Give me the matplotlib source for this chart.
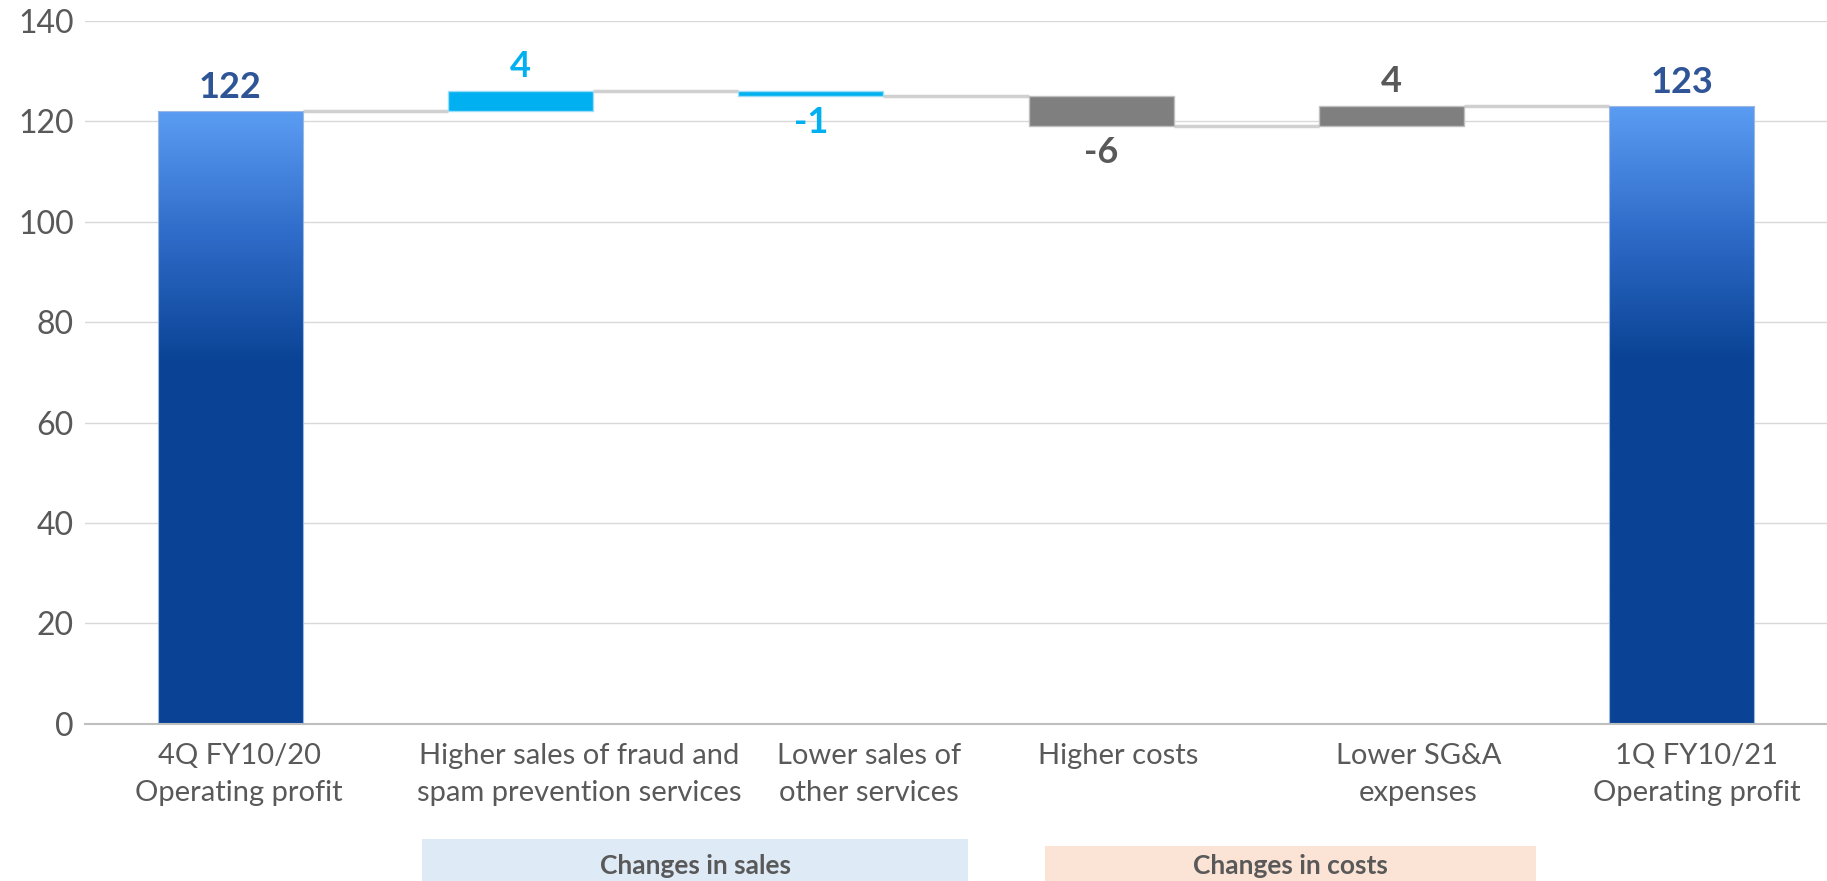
import matplotlib
matplotlib.use("Agg")
import matplotlib.pyplot as plt
import matplotlib.transforms as mtransforms
import numpy as np
from matplotlib.colors import LinearSegmentedColormap
from matplotlib.patches import Rectangle

plt.rcParams["font.family"] = ["Lato", "DejaVu Sans"]

# data
categories = [
    "4Q FY10/20\nOperating profit",
    "Higher sales of fraud and\nspam prevention services",
    "Lower sales of\nother services",
    "Higher costs",
    "Lower SG&A\nexpenses",
    "1Q FY10/21\nOperating profit",
]
start_total = 122
deltas = [4, -1, -6, 4]
end_total = 123
delta_groups = ["sales", "sales", "costs", "costs"]
group_labels = ["Changes in sales", "Changes in costs"]
yticks = [0, 20, 40, 60, 80, 100, 120, 140]

# colours
TOTAL_TXT = "#2F5597"
SALES_CLR = "#00B0F0"
COSTS_CLR = "#7F7F7F"
COSTS_TXT = "#595959"
CONNECT = "#D0D0D0"
GRID = "#D9D9D9"
TICK_TXT = "#595959"

total_cmap = LinearSegmentedColormap.from_list(
    "tot", [(0.0, "#0A4395"), (0.59, "#0A4395"), (0.8, "#2F6CC9"), (1.0, "#5B9CF3")])

fig = plt.figure(figsize=(18.27, 8.81), dpi=100)
ax = fig.add_axes([0.0465, 0.1786, 0.9535, 0.7976])

width = 0.5
x = np.arange(len(categories))


def gradient_bar(ax, xc, h):
    bar = ax.bar(xc, h, width=width, color="none", edgecolor="#9DB8E0", linewidth=0.8, zorder=3)[0]
    grad = np.linspace(0, 1, 256).reshape(-1, 1)
    im = ax.imshow(grad, cmap=total_cmap, origin="lower", aspect="auto",
                   extent=(xc - width / 2, xc + width / 2, 0, h), zorder=2)
    im.set_clip_path(bar)


# totals
gradient_bar(ax, x[0], start_total)
gradient_bar(ax, x[-1], end_total)

levels = [start_total]
for d in deltas:
    levels.append(levels[-1] + d)

for i, d in enumerate(deltas):
    xi = x[i + 1]
    lo = min(levels[i], levels[i + 1])
    clr = SALES_CLR if delta_groups[i] == "sales" else COSTS_CLR
    edge = "#9BDDF7" if delta_groups[i] == "sales" else "#BFBFBF"
    ax.bar(xi, abs(d), bottom=lo, width=width, color=clr, edgecolor=edge, linewidth=1, zorder=3)

# connectors
for i in range(len(categories) - 1):
    ax.plot([x[i] + width / 2, x[i + 1] - width / 2], [levels[i], levels[i]],
            color=CONNECT, linewidth=2.5, zorder=2, solid_capstyle="butt")

# value labels
lab_kw = dict(textcoords="offset points", ha="center", fontsize=26, fontweight="bold", zorder=5)
ax.annotate(f"{start_total}", (x[0], start_total), xytext=(0, 5), va="bottom", color=TOTAL_TXT, **lab_kw)
ax.annotate(f"{end_total}", (x[-1], end_total), xytext=(0, 5), va="bottom", color=TOTAL_TXT, **lab_kw)
for i, d in enumerate(deltas):
    clr = SALES_CLR if delta_groups[i] == "sales" else COSTS_TXT
    if d > 0:
        ax.annotate(f"{d}", (x[i + 1], levels[i + 1]), xytext=(0, 6), va="bottom", color=clr, **lab_kw)
    else:
        ax.annotate(f"{d}", (x[i + 1], levels[i + 1]), xytext=(0, -7), va="top", color=clr, **lab_kw)

ax.set_xlim(-0.5, 5.5)
ax.set_ylim(0, 140)
ax.set_yticks(yticks)
ax.set_xticks(x)
ax.set_xticklabels(categories, fontsize=21, color=TICK_TXT, linespacing=1.5)
ax.tick_params(axis="y", labelsize=23, labelcolor=TICK_TXT, length=0, pad=8)
ax.tick_params(axis="x", length=0, pad=14)

# category labels in the original sit a bit right of the bar centres
label_shift_px = [9, 59, 58, 17, 27, 15]
for lbl, dx in zip(ax.get_xticklabels(), label_shift_px):
    lbl.set_transform(lbl.get_transform() + mtransforms.ScaledTranslation(dx / 100, 0, fig.dpi_scale_trans))

ax.grid(axis="y", color=GRID, linewidth=1, zorder=0)
ax.set_axisbelow(True)
for s in ["left", "right", "top"]:
    ax.spines[s].set_visible(False)
ax.spines["bottom"].set_color("#BFBFBF")
ax.spines["bottom"].set_linewidth(1.5)

# group boxes below the axis
W, H = 1827, 881
boxes = [(422, 968, 839, "#DEEAF6"), (1045, 1536, 846, "#FBE4D5")]
for (x0, x1, ytop, fc), txt in zip(boxes, group_labels):
    fig.patches.append(Rectangle((x0 / W, 0), (x1 - x0) / W, (H - ytop) / H,
                                 transform=fig.transFigure, facecolor=fc, edgecolor="none"))
    fig.text((x0 + x1) / 2 / W, 1 - 866 / H, txt, ha="center", va="center",
             fontsize=19, fontweight="bold", color=TICK_TXT)

fig.savefig("out.png", dpi=100)
